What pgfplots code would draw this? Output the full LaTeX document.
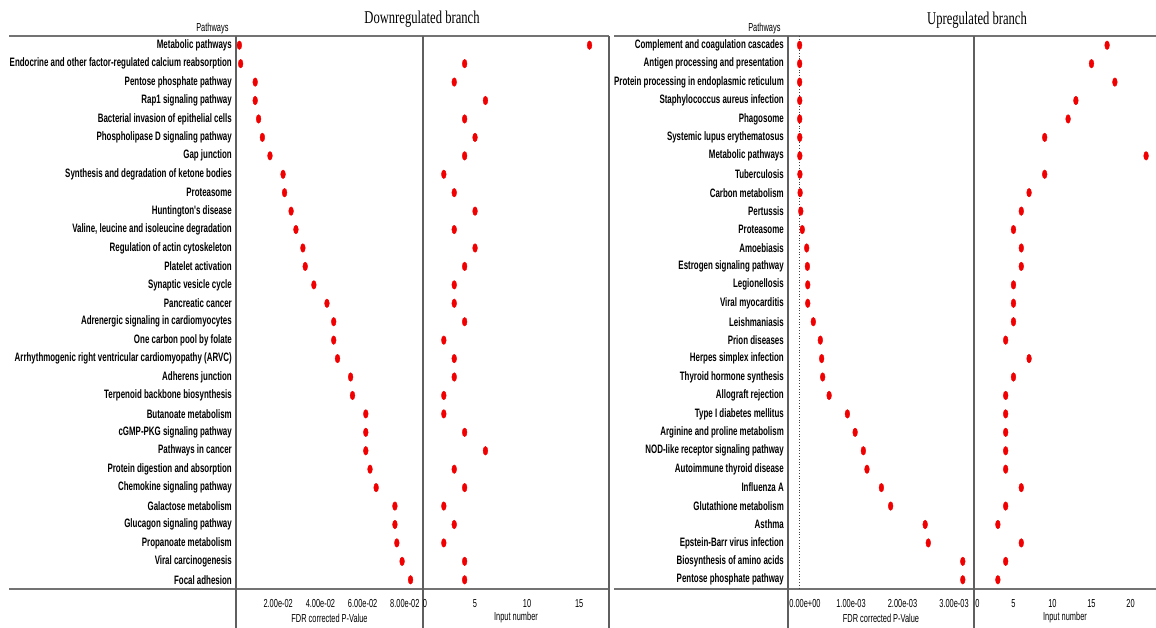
\documentclass[border=0pt]{standalone}
\usepackage{pgfplots}
\pgfplotsset{compat=1.18}
\usepackage{fontspec}
\setmainfont{Liberation Sans}
\newfontfamily\narrowfont[FakeStretch=0.65]{Liberation Sans}
\newfontfamily\tnarrowfont[FakeStretch=0.64]{Liberation Sans}
\newfontfamily\titlefont[FakeStretch=0.70]{Liberation Serif}
\newcommand\labfont{\narrowfont\bfseries\fontsize{12.2}{14}\selectfont}
\newcommand\tickfont{\tnarrowfont\fontsize{11.6}{13}\selectfont}
\definecolor{linegray}{RGB}{115,115,115}
\definecolor{vgray}{RGB}{95,95,95}
\definecolor{dotred}{RGB}{240,0,0}
\pgfplotsset{
  panel/.style={
    scale only axis, height=553pt, y dir=reverse, ymin=0.5, ymax=30.5,
    axis line style={draw=none}, major tick length=0pt, anchor=south west,
    clip=false, scaled x ticks=false,
    xticklabel style={font=\tickfont, yshift=-6.5pt},
    yticklabel style={font=\labfont, inner sep=0pt, xshift=-4pt},
  },
  dots/.style={only marks, mark=*, mark size=4.3pt,
    mark options={fill=dotred, draw=dotred, xscale=0.55}},
}
\begin{document}
\begin{tikzpicture}[x=1pt,y=1pt]
\useasboundingbox (0,0) rectangle (1156,628);
% frame lines
\draw[linegray, line width=2pt] (9,592) -- (609,592);
\draw[linegray, line width=2pt] (9,39) -- (609,39);
\draw[linegray, line width=2pt] (614,592) -- (1156,592);
\draw[linegray, line width=2pt] (614,39) -- (1156,39);
\foreach \xx in {236,423,609,788,974} {
  \draw[vgray, line width=1.2pt] (\xx,592) -- (\xx,0);
}
% titles
\node[font=\titlefont\fontsize{18}{20}\selectfont] at (422,609) {Downregulated branch};
\node[font=\titlefont\fontsize{18}{20}\selectfont] at (977,608) {Upregulated branch};
\node[font=\tickfont, anchor=east] at (232,599) {Pathways};
\node[font=\tickfont, anchor=east] at (784,599) {Pathways};
\node[font=\tickfont] at (329.5,10) {FDR corrected P-Value};
\node[font=\tickfont] at (516,10) {Input number};
\node[font=\tickfont] at (881,10) {FDR corrected P-Value};
\node[font=\tickfont] at (1065,10) {Input number};

% ---------- Downregulated: FDR ----------
\begin{axis}[panel, at={(236pt,39pt)}, width=187pt,
  xmin=0, xmax=0.0886,
  xtick={0.02,0.04,0.06,0.08},
  xticklabels={2.00e-02,4.00e-02,6.00e-02,8.00e-02},
  ytick={1,...,30},
  yticklabels={Metabolic pathways,
    Endocrine and other factor-regulated calcium reabsorption,
    Pentose phosphate pathway,
    Rap1 signaling pathway,
    Bacterial invasion of epithelial cells,
    Phospholipase D signaling pathway,
    Gap junction,
    Synthesis and degradation of ketone bodies,
    Proteasome,
    Huntington's disease,
    {Valine, leucine and isoleucine degradation},
    Regulation of actin cytoskeleton,
    Platelet activation,
    Synaptic vesicle cycle,
    Pancreatic cancer,
    Adrenergic signaling in cardiomyocytes,
    One carbon pool by folate,
    Arrhythmogenic right ventricular cardiomyopathy (ARVC),
    Adherens junction,
    Terpenoid backbone biosynthesis,
    Butanoate metabolism,
    cGMP-PKG signaling pathway,
    Pathways in cancer,
    Protein digestion and absorption,
    Chemokine signaling pathway,
    Galactose metabolism,
    Glucagon signaling pathway,
    Propanoate metabolism,
    Viral carcinogenesis,
    Focal adhesion},
]
\addplot[dots] coordinates {
(0.0016,1) (0.0022,2) (0.0091,3) (0.0091,4) (0.0107,5) (0.0125,6)
(0.0161,7) (0.0223,8) (0.0230,9) (0.0261,10) (0.0284,11) (0.0317,12)
(0.0328,13) (0.0369,14) (0.0431,15) (0.0463,16) (0.0463,17) (0.0481,18)
(0.0543,19) (0.0552,20) (0.0615,21) (0.0615,22) (0.0615,23) (0.0635,24)
(0.0664,25) (0.0753,26) (0.0753,27) (0.0762,28) (0.0787,29) (0.0827,30)
};
\end{axis}

% ---------- Downregulated: Input number ----------
\begin{axis}[panel, at={(423pt,39pt)}, width=186pt,
  xmin=0, xmax=17.87,
  xtick={0,5,10,15},
  xticklabels={\hspace*{4pt}0,5,10,15},
  ytick=\empty,
]
\addplot[dots] coordinates {
(16,1) (4,2) (3,3) (6,4) (4,5) (5,6) (4,7) (2,8) (3,9) (5,10)
(3,11) (5,12) (4,13) (3,14) (3,15) (4,16) (2,17) (3,18) (3,19) (2,20)
(2,21) (4,22) (6,23) (3,24) (4,25) (2,26) (3,27) (2,28) (4,29) (4,30)
};
\end{axis}

% ---------- Upregulated: FDR ----------
\begin{axis}[panel, at={(788pt,39pt)}, width=186pt,
  xmin=-0.0002233, xmax=0.003388,
  xtick={0,0.001,0.002,0.003},
  xticklabels={\hspace*{11pt}0.00e+00,1.00e-03,2.00e-03,3.00e-03},
  ytick={1,...,30},
  yticklabels={Complement and coagulation cascades,
    Antigen processing and presentation,
    Protein processing in endoplasmic reticulum,
    Staphylococcus aureus infection,
    Phagosome,
    Systemic lupus erythematosus,
    Metabolic pathways,
    Tuberculosis,
    Carbon metabolism,
    Pertussis,
    Proteasome,
    Amoebiasis,
    Estrogen signaling pathway,
    Legionellosis,
    Viral myocarditis,
    Leishmaniasis,
    Prion diseases,
    Herpes simplex infection,
    Thyroid hormone synthesis,
    Allograft rejection,
    Type I diabetes mellitus,
    Arginine and proline metabolism,
    NOD-like receptor signaling pathway,
    Autoimmune thyroid disease,
    Influenza A,
    Glutathione metabolism,
    Asthma,
    Epstein-Barr virus infection,
    Biosynthesis of amino acids,
    Pentose phosphate pathway},
]
\draw[black!75, dotted, line width=0.8pt] (axis cs:0,0.5) -- (axis cs:0,30.5);
\addplot[dots] coordinates {
(0.000002,1) (0.000003,2) (0.000003,3) (0.000004,4) (0.000004,5) (0.000005,6)
(0.000006,7) (0.000008,8) (0.000012,9) (0.000025,10) (0.000054,11) (0.000140,12)
(0.000153,13) (0.000160,14) (0.000160,15) (0.000268,16) (0.000404,17) (0.000430,18)
(0.000450,19) (0.000575,20) (0.000930,21) (0.00108,22) (0.00124,23) (0.00131,24)
(0.00159,25) (0.00177,26) (0.00244,27) (0.00250,28) (0.00317,29) (0.00317,30)
};
\end{axis}

% ---------- Upregulated: Input number ----------
\begin{axis}[panel, at={(974pt,39pt)}, width=182pt,
  xmin=-0.06, xmax=23.27,
  xtick={0,5,10,15,20},
  xticklabels={\hspace*{6pt}0,5,10,15,20},
  ytick=\empty,
]
\addplot[dots] coordinates {
(17,1) (15,2) (18,3) (13,4) (12,5) (9,6) (22,7) (9,8) (7,9) (6,10)
(5,11) (6,12) (6,13) (5,14) (5,15) (5,16) (4,17) (7,18) (5,19) (4,20)
(4,21) (4,22) (4,23) (4,24) (6,25) (4,26) (3,27) (6,28) (4,29) (3,30)
};
\end{axis}
\end{tikzpicture}
\end{document}
